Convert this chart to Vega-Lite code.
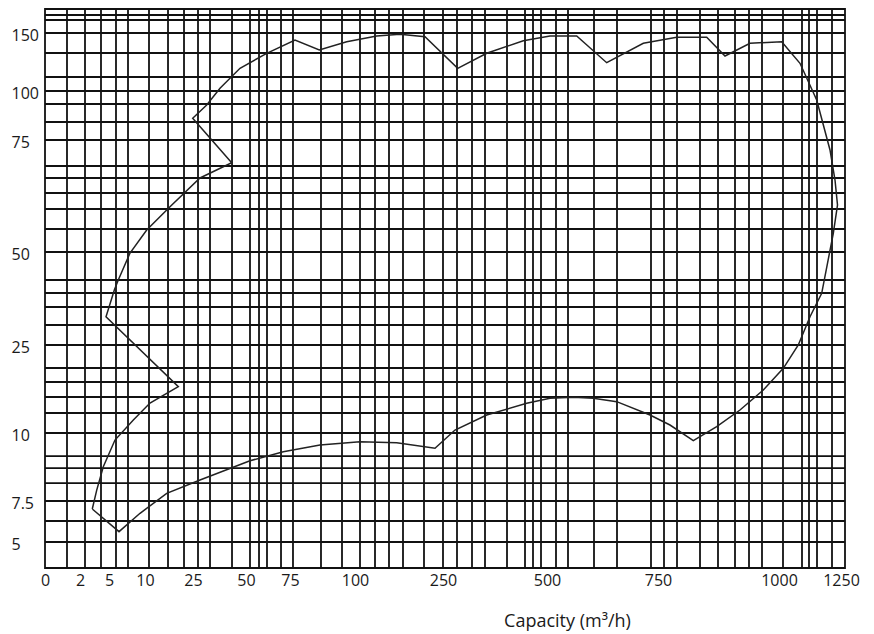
{
  "$schema": "https://vega.github.io/schema/vega-lite/v6.json",
  "autosize": "none",
  "width": 800,
  "height": 559,
  "padding": {"left": 45, "top": 9, "right": 29, "bottom": 66},
  "background": "white",
  "config": {
    "view": {"stroke": "#111", "strokeWidth": 1.8},
    "font": "Open Sans"
  },
  "datasets": {
    "vgrid": [
      {"q": 1.257}, {"q": 2.517}, {"q": 4.172}, {"q": 5.972}, {"q": 7.639}, {"q": 11.25}, {"q": 17.19}, {"q": 22.19},
      {"q": 27.36}, {"q": 33.02}, {"q": 43.4}, {"q": 52.27}, {"q": 57.39}, {"q": 61.93}, {"q": 69.89}, {"q": 76.15},
      {"q": 86.92}, {"q": 95.0}, {"q": 108.52}, {"q": 134.09}, {"q": 157.95}, {"q": 181.82}, {"q": 217.61}, {"q": 250},
      {"q": 283.65}, {"q": 319.71}, {"q": 350.96}, {"q": 403.85}, {"q": 447.12}, {"q": 466.35}, {"q": 485.58}, {"q": 520.27},
      {"q": 547.3}, {"q": 605.86}, {"q": 657.66}, {"q": 734.23}, {"q": 762.4}, {"q": 789.26}, {"q": 836.78}, {"q": 873.97},
      {"q": 909.09}, {"q": 938.02}, {"q": 964.87}, {"q": 1016.13}, {"q": 1092.74}, {"q": 1120.97}, {"q": 1153.23}, {"q": 1213.71}
    ],
    "hgrid": [
      {"h": 165.53}, {"h": 161.21}, {"h": 150}, {"h": 132.76}, {"h": 112.07}, {"h": 100}, {"h": 93.37}, {"h": 84.18},
      {"h": 75}, {"h": 69.2}, {"h": 66.52}, {"h": 63.17}, {"h": 59.6}, {"h": 55.13}, {"h": 50}, {"h": 42.47},
      {"h": 38.98}, {"h": 35.22}, {"h": 30.38}, {"h": 25}, {"h": 21.08}, {"h": 18.69}, {"h": 16.14}, {"h": 13.41},
      {"h": 10}, {"h": 9.15}, {"h": 8.71}, {"h": 8.16}, {"h": 7.5}, {"h": 6.28}, {"h": 5}
    ],
    "curve": [
      {"i": 1, "q": 3.27, "h": 7.01},
      {"i": 2, "q": 3.73, "h": 7.9},
      {"i": 3, "q": 4.41, "h": 8.76},
      {"i": 4, "q": 5.83, "h": 9.74},
      {"i": 5, "q": 8.38, "h": 12.22},
      {"i": 6, "q": 11.56, "h": 15.11},
      {"i": 7, "q": 20.41, "h": 17.89},
      {"i": 8, "q": 4.69, "h": 32.61},
      {"i": 9, "q": 5.74, "h": 39.79},
      {"i": 10, "q": 6.29, "h": 42.47},
      {"i": 11, "q": 7.92, "h": 49.73},
      {"i": 12, "q": 10.53, "h": 54.91},
      {"i": 13, "q": 17.81, "h": 60.11},
      {"i": 14, "q": 28.3, "h": 66.52},
      {"i": 15, "q": 43.25, "h": 69.93},
      {"i": 16, "q": 24.91, "h": 86.07},
      {"i": 17, "q": 31.46, "h": 92.86},
      {"i": 18, "q": 37.74, "h": 102.33},
      {"i": 19, "q": 47.17, "h": 119.57},
      {"i": 20, "q": 61.76, "h": 132.5},
      {"i": 21, "q": 76.92, "h": 143.97},
      {"i": 22, "q": 86.27, "h": 135.34},
      {"i": 23, "q": 96.81, "h": 142.5},
      {"i": 24, "q": 136.99, "h": 147.41},
      {"i": 25, "q": 176.7, "h": 148.88},
      {"i": 26, "q": 219.32, "h": 146.81},
      {"i": 27, "q": 285.34, "h": 119.57},
      {"i": 28, "q": 355.05, "h": 132.5},
      {"i": 29, "q": 443.03, "h": 143.36},
      {"i": 30, "q": 506.76, "h": 147.41},
      {"i": 31, "q": 566.89, "h": 147.41},
      {"i": 32, "q": 634.46, "h": 124.4},
      {"i": 33, "q": 716.9, "h": 141.12},
      {"i": 34, "q": 788.64, "h": 146.29},
      {"i": 35, "q": 850.62, "h": 146.29},
      {"i": 36, "q": 888.43, "h": 130.17},
      {"i": 37, "q": 940.08, "h": 141.12},
      {"i": 38, "q": 1010.89, "h": 142.5},
      {"i": 39, "q": 1084.68, "h": 123.88},
      {"i": 40, "q": 1152.02, "h": 95.41},
      {"i": 41, "q": 1205.65, "h": 72.77},
      {"i": 42, "q": 1225.81, "h": 66.07},
      {"i": 43, "q": 1235.89, "h": 60.49},
      {"i": 44, "q": 1218.95, "h": 54.17},
      {"i": 45, "q": 1172.18, "h": 38.9},
      {"i": 46, "q": 1125.0, "h": 32.61},
      {"i": 47, "q": 1077.82, "h": 25.0},
      {"i": 48, "q": 1017.34, "h": 21.03},
      {"i": 49, "q": 967.56, "h": 17.33},
      {"i": 50, "q": 919.42, "h": 13.92},
      {"i": 51, "q": 871.28, "h": 11.07},
      {"i": 52, "q": 822.93, "h": 9.72},
      {"i": 53, "q": 774.79, "h": 11.36},
      {"i": 54, "q": 731.99, "h": 13.07},
      {"i": 55, "q": 656.99, "h": 15.34},
      {"i": 56, "q": 604.28, "h": 15.91},
      {"i": 57, "q": 559.24, "h": 16.09},
      {"i": 58, "q": 506.76, "h": 15.91},
      {"i": 59, "q": 451.2, "h": 15.06},
      {"i": 60, "q": 355.05, "h": 13.07},
      {"i": 61, "q": 278.85, "h": 10.51},
      {"i": 62, "q": 236.36, "h": 9.44},
      {"i": 63, "q": 171.08, "h": 9.64},
      {"i": 64, "q": 108.52, "h": 9.68},
      {"i": 65, "q": 86.54, "h": 9.56},
      {"i": 66, "q": 71.19, "h": 9.31},
      {"i": 67, "q": 52.27, "h": 8.98},
      {"i": 68, "q": 28.3, "h": 8.27},
      {"i": 69, "q": 16.78, "h": 7.78},
      {"i": 70, "q": 9.31, "h": 6.75},
      {"i": 71, "q": 6.39, "h": 5.63},
      {"i": 72, "q": 3.27, "h": 7.01}
    ]
  },
  "layer": [
    {
      "data": {"name": "vgrid"},
      "mark": {"type": "rule", "color": "#111", "strokeWidth": 1.8},
      "encoding": {
        "x": {
          "field": "q", "type": "quantitative",
          "scale": {"type": "linear", "zero": false, "nice": false,
            "domain": [0, 2, 5, 10, 25, 50, 75, 100, 250, 500, 750, 1000, 1250, 1266],
            "range": [0, 35, 64, 100, 148, 201, 245, 310, 398, 502, 613, 734, 796, 800]},
          "axis": {
            "values": [0, 2, 5, 10, 25, 50, 75, 100, 250, 500, 750, 1000, 1250],
            "labelExpr": "'' + datum.value",
            "ticks": false, "domain": false, "grid": false,
            "labelFlush": false, "labelOverlap": false,
            "labelFont": "Open Sans", "labelFontSize": 16, "labelColor": "#1a1a1a", "labelPadding": 4,
            "title": "Capacity (m³/h)", "titleFont": "Open Sans", "titleFontSize": 18, "titleFontWeight": "normal",
            "titleColor": "#1a1a1a", "titleX": 522, "titleY": 58, "titleAlign": "center", "titleBaseline": "alphabetic"
          }
        }
      }
    },
    {
      "data": {"name": "hgrid"},
      "mark": {"type": "rule", "color": "#111", "strokeWidth": 1.8},
      "encoding": {
        "y": {
          "field": "h", "type": "quantitative",
          "scale": {"type": "linear", "zero": false, "nice": false,
            "domain": [3.4, 5, 7.5, 10, 25, 50, 75, 100, 150, 170.7],
            "range": [559, 533, 492, 424, 336, 243, 131, 82, 24, 0]},
          "axis": {
            "values": [5, 7.5, 10, 25, 50, 75, 100, 150],
            "labelExpr": "'' + datum.value",
            "ticks": false, "domain": false, "grid": false,
            "labelFlush": false, "labelOverlap": false,
            "labelFont": "Open Sans", "labelFontSize": 16, "labelColor": "#1a1a1a",
            "labelAlign": "left", "labelPadding": 34, "labelOffset": 2,
            "title": null
          }
        }
      }
    },
    {
      "data": {"name": "curve"},
      "mark": {"type": "line", "color": "#222", "strokeWidth": 1.5},
      "encoding": {
        "x": {
          "field": "q", "type": "quantitative",
          "scale": {"type": "linear", "zero": false, "nice": false,
            "domain": [0, 2, 5, 10, 25, 50, 75, 100, 250, 500, 750, 1000, 1250, 1266],
            "range": [0, 35, 64, 100, 148, 201, 245, 310, 398, 502, 613, 734, 796, 800]}
        },
        "y": {
          "field": "h", "type": "quantitative",
          "scale": {"type": "linear", "zero": false, "nice": false,
            "domain": [3.4, 5, 7.5, 10, 25, 50, 75, 100, 150, 170.7],
            "range": [559, 533, 492, 424, 336, 243, 131, 82, 24, 0]}
        },
        "order": {"field": "i", "type": "quantitative"}
      }
    }
  ]
}
